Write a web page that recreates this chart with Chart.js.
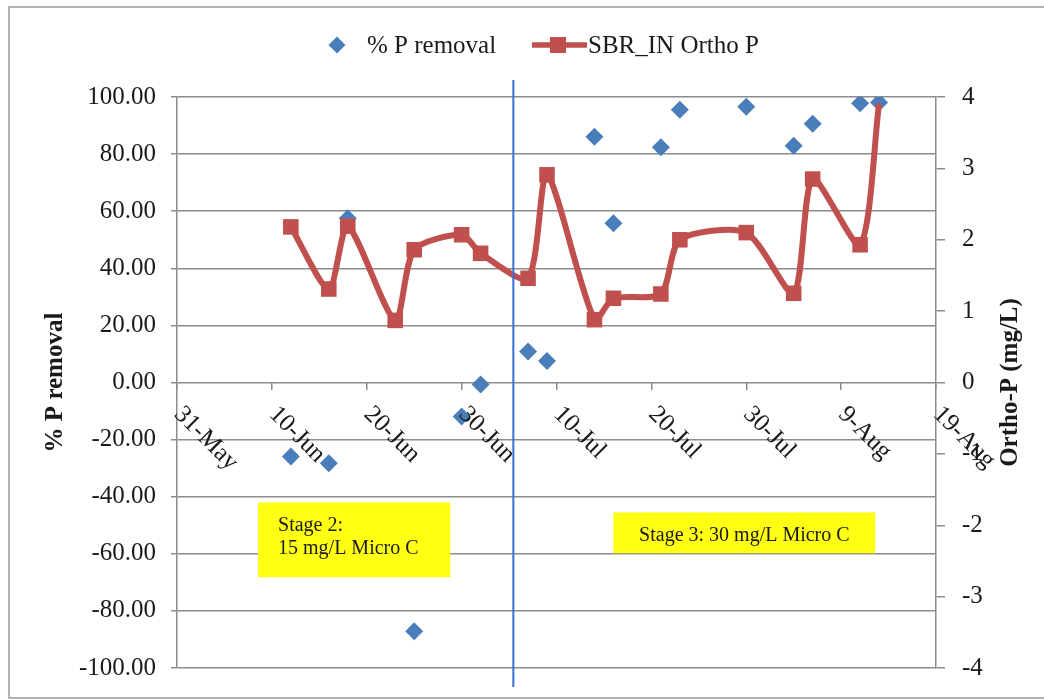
<!DOCTYPE html>
<html>
<head>
<meta charset="utf-8">
<script src="https://cdn.jsdelivr.net/npm/chart.js@4/dist/chart.umd.min.js"></script>
<style>
  html, body { margin: 0; padding: 0; background: #fff; }
  #wrap { position: relative; width: 1044px; height: 700px; }
</style>
</head>
<body>
<div id="wrap"><canvas id="chart" width="1044" height="700"></canvas></div>
<script>
// Sampling dates (month-day) and measured values
const removalDates = ['06-12', '06-16', '06-18', '06-25', '06-30', '07-02', '07-07', '07-09', '07-14',
                      '07-16', '07-21', '07-23', '07-30', '08-04', '08-06', '08-11', '08-13'];
const removalPct = [-25.9, -28.3, 57.5, -87.1, -11.9, -0.7, 10.9, 7.5, 86.1,
                    55.8, 82.4, 95.5, 96.6, 82.9, 90.6, 97.8, 98.1];

const orthoDates = ['06-12', '06-16', '06-18', '06-23', '06-25', '06-30', '07-02', '07-07', '07-09',
                    '07-14', '07-16', '07-21', '07-23', '07-30', '08-04', '08-06', '08-11', '08-13'];
const orthoP = [2.18, 1.31, 2.19, 0.87, 1.86, 2.07, 1.81, 1.46, 2.91,
                0.88, 1.18, 1.24, 2.00, 2.10, 1.25, 2.85, 1.93, 3.91];

const xTickLabels = ['31-May', '10-Jun', '20-Jun', '30-Jun', '10-Jul', '20-Jul', '30-Jul', '9-Aug', '19-Aug'];

const stageLabels = [['Stage 2:', '15 mg/L Micro C'], ['Stage 3: 30 mg/L Micro C']];
const stageChange = '07-05'; // dosing switched around midday

// Days counted from 31 May
const ORIGIN = Date.UTC(2001, 4, 31);
function dayOf(md) {
  const [m, d] = md.split('-').map(Number);
  return (Date.UTC(2001, m - 1, d) - ORIGIN) / 864e5;
}

const SERIF = '"Liberation Serif", "Times New Roman", serif';
const INK = '#1a1a1a';
const GRID = '#8c8c8c';
const BLUE = '#4a7ebb';
const RED = '#c0504d';

const removalPoints = removalDates.map((d, i) => ({ x: dayOf(d), y: removalPct[i] }));
const orthoPoints = orthoDates.map((d, i) => ({ x: dayOf(d), y: orthoP[i] }));

// Diamond path used by the legend
function diamond(ctx, x, y, r) {
  ctx.beginPath();
  ctx.moveTo(x - r, y); ctx.lineTo(x, y - r); ctx.lineTo(x + r, y); ctx.lineTo(x, y + r);
  ctx.closePath();
}

const decorations = {
  id: 'decorations',
  beforeDraw(chart) {
    const ctx = chart.ctx;
    ctx.save();
    ctx.fillStyle = '#fff';
    ctx.fillRect(0, 0, chart.width, chart.height);
    ctx.restore();
  },
  afterDatasetsDraw(chart) {
    const ctx = chart.ctx;
    const { x, y } = chart.scales;
    const area = chart.chartArea;
    ctx.save();

    // Stage annotation boxes
    const boxes = [
      { x0: 8.54, x1: 28.8, y0: -42.0, y1: -68.2, lines: stageLabels[0], align: 'left' },
      { x0: 46.0, x1: 73.6, y0: -45.5, y1: -59.8, lines: stageLabels[1], align: 'center' }
    ];
    ctx.font = '20px ' + SERIF;
    boxes.forEach(b => {
      const l = x.getPixelForValue(b.x0), r = x.getPixelForValue(b.x1);
      const t = y.getPixelForValue(b.y0), bt = y.getPixelForValue(b.y1);
      ctx.fillStyle = '#ffff14';
      ctx.fillRect(l, t, r - l, bt - t);
      ctx.fillStyle = INK;
      ctx.textBaseline = 'alphabetic';
      if (b.align === 'left') {
        ctx.textAlign = 'left';
        b.lines.forEach((s, i) => ctx.fillText(s, l + 20, t + 29 + i * 23));
      } else {
        ctx.textAlign = 'center';
        ctx.fillText(b.lines[0], (l + r) / 2, t + 29);
      }
    });

    // Vertical marker where the dosing stage changes
    const sx = x.getPixelForValue(dayOf(stageChange) + 0.45);
    ctx.strokeStyle = '#3a6fd6';
    ctx.lineWidth = 2;
    ctx.beginPath();
    ctx.moveTo(sx, area.top - 17);
    ctx.lineTo(sx, area.bottom + 19);
    ctx.stroke();

    // Date labels, rotated down-right from each tick on the zero line
    const zeroY = y.getPixelForValue(0);
    ctx.font = '25px ' + SERIF;
    ctx.fillStyle = INK;
    ctx.textAlign = 'left';
    ctx.textBaseline = 'middle';
    x.ticks.forEach((t, i) => {
      const px = x.getPixelForTick(i);
      ctx.save();
      ctx.translate(px + 1, zeroY + 28);
      ctx.rotate(Math.PI / 4);
      ctx.fillText(t.label, 0, 0);
      ctx.restore();
    });
    ctx.restore();
  },
  afterDraw(chart) {
    const ctx = chart.ctx;
    const area = chart.chartArea;
    const midY = (area.top + area.bottom) / 2;
    ctx.save();

    // Axis titles
    ctx.font = 'bold 25px ' + SERIF;
    ctx.fillStyle = INK;
    ctx.textAlign = 'center';
    ctx.textBaseline = 'middle';
    ctx.save();
    ctx.translate(56, midY);
    ctx.rotate(-Math.PI / 2);
    ctx.fillText('% P removal', 0, 0);
    ctx.restore();
    ctx.save();
    ctx.translate(1011, midY);
    ctx.rotate(-Math.PI / 2);
    ctx.fillText('Ortho-P (mg/L)', 0, 0);
    ctx.restore();

    // Legend
    const [dsA, dsB] = chart.data.datasets;
    const ly = 45;
    ctx.font = '25px ' + SERIF;
    ctx.textAlign = 'left';
    ctx.textBaseline = 'alphabetic';
    ctx.fillStyle = dsA.backgroundColor;
    diamond(ctx, 337, ly, 8.5);
    ctx.fill();
    ctx.fillStyle = INK;
    ctx.fillText(dsA.label, 367, ly + 8);
    ctx.strokeStyle = dsB.borderColor;
    ctx.lineWidth = 5.5;
    ctx.beginPath();
    ctx.moveTo(532, ly); ctx.lineTo(587, ly);
    ctx.stroke();
    ctx.fillStyle = dsB.backgroundColor;
    ctx.fillRect(550, ly - 8, 16, 16);
    ctx.fillStyle = INK;
    ctx.fillText(dsB.label, 588, ly + 8);

    // Outer frame
    ctx.strokeStyle = '#9a9a9a';
    ctx.lineWidth = 1.5;
    ctx.strokeRect(9, 7, 1060, 691);
    ctx.restore();
  }
};

new Chart(document.getElementById('chart'), {
  type: 'line',
  data: {
    datasets: [
      {
        label: '% P removal',
        data: removalPoints,
        yAxisID: 'y',
        showLine: false,
        order: 1,
        pointStyle: 'rectRot',
        pointRadius: 9,
        pointBorderWidth: 0,
        backgroundColor: BLUE,
        borderColor: BLUE,
        pointBackgroundColor: BLUE
      },
      {
        label: 'SBR_IN Ortho P',
        data: orthoPoints,
        yAxisID: 'y1',
        order: 0,
        borderColor: RED,
        backgroundColor: RED,
        borderWidth: 6,
        tension: 0.25,
        pointStyle: 'rect',
        pointRadius: ctx => (ctx.dataIndex === orthoPoints.length - 1 ? 0 : 11),
        pointBorderWidth: 0,
        pointBackgroundColor: RED
      }
    ]
  },
  options: {
    responsive: false,
    animation: false,
    events: [],
    layout: { padding: { top: 97, bottom: 31, left: 0, right: 0 } },
    plugins: { legend: { display: false }, tooltip: { enabled: false } },
    scales: {
      x: {
        type: 'linear',
        position: { y: 0 },
        min: 0,
        max: 80,
        ticks: {
          stepSize: 10,
          autoSkip: false,
          maxRotation: 0,
          color: 'rgba(0,0,0,0)',
          font: { size: 2 },
          callback: (v, i) => xTickLabels[i]
        },
        grid: { drawOnChartArea: false, color: GRID, lineWidth: 1.5, tickLength: 7 },
        border: { display: false }
      },
      y: {
        position: 'left',
        min: -100,
        max: 100,
        ticks: {
          stepSize: 20,
          padding: 15,
          color: INK,
          font: { family: SERIF, size: 25 },
          callback: v => v.toFixed(2)
        },
        grid: { color: GRID, lineWidth: 1.5, tickLength: 6 },
        border: { color: GRID, width: 1.5 },
        afterFit: s => { s.width = 177; }
      },
      y1: {
        position: 'right',
        min: -4,
        max: 4,
        ticks: {
          stepSize: 1,
          padding: 17,
          color: INK,
          font: { family: SERIF, size: 25 },
          callback: v => String(v)
        },
        grid: { drawOnChartArea: false, color: GRID, lineWidth: 1.5, tickLength: 9 },
        border: { color: GRID, width: 1.5 },
        afterFit: s => { s.width = 108; }
      }
    }
  },
  plugins: [decorations]
});
</script>
</body>
</html>
